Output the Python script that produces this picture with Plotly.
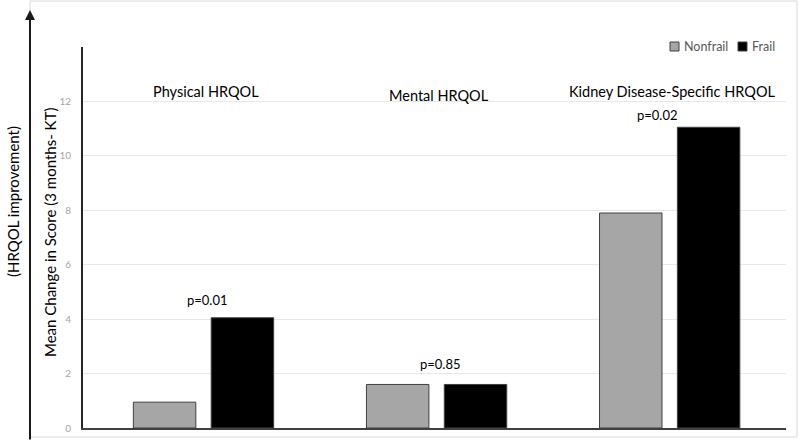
import plotly.graph_objects as go

categories = ["Physical HRQOL", "Mental HRQOL", "Kidney Disease-Specific HRQOL"]
nonfrail = [0.95, 1.6, 7.9]
frail = [4.05, 1.6, 11.05]
p_values = ["p=0.01", "p=0.85", "p=0.02"]
y_ticks = [0, 2, 4, 6, 8, 10, 12]
series_names = ["Nonfrail", "Frail"]
series_colors = ["#a6a6a6", "#000000"]

FONT = "Lato"
L, R, T, B = 83, 14, 47, 13
PW, PH = 800 - L - R, 441 - T - B


def px(x):
    return (x - L) / PW


def py(y):
    return (441 - B - y) / PH


fig = go.Figure()
for name, vals, col, off in zip(series_names, [nonfrail, frail], series_colors, [-0.30, 0.034]):
    fig.add_trace(go.Bar(
        x=categories, y=vals, name=name,
        marker=dict(color=col, line=dict(color="#404040", width=1)),
        width=0.268, offset=off, showlegend=False,
    ))

# category labels at top of plot
label_y = [12.38, 12.2, 12.36]
for c, yy in zip(categories, label_y):
    fig.add_annotation(x=c, y=yy, xref="x", yref="y", text=c, showarrow=False,
                       xanchor="center", yanchor="middle",
                       font=dict(family=FONT, size=14.5, color="#000000"), xshift=3)

# p-value labels
p_shift_x = [4, 4, -12]
p_shift_y = [18, 20, 12]
for c, nf, f, p, sx, sy in zip(categories, nonfrail, frail, p_values, p_shift_x, p_shift_y):
    fig.add_annotation(x=c, y=max(nf, f), xref="x", yref="y", text=p, showarrow=False,
                       xanchor="center", yanchor="middle", xshift=sx, yshift=sy,
                       font=dict(family=FONT, size=13, color="#000000"))

# y-axis titles
fig.add_annotation(x=px(50), y=py(233), xref="paper", yref="paper", textangle=-90,
                   xanchor="center", yanchor="middle",
                   text="Mean Change in Score (3 months- KT)", showarrow=False,
                   font=dict(family=FONT, size=15, color="#000000"))
fig.add_annotation(x=px(13), y=py(202), xref="paper", yref="paper", textangle=-90,
                   xanchor="center", yanchor="middle",
                   text="(HRQOL improvement)", showarrow=False,
                   font=dict(family=FONT, size=15, color="#000000"))

# upward arrow at left
fig.add_annotation(x=px(30), y=py(10), xref="paper", yref="paper", text="",
                   showarrow=True, axref="pixel", ayref="pixel", ax=0, ay=435,
                   arrowhead=2, arrowsize=1, arrowwidth=2, arrowcolor="#1a1a1a")

# outer frame
fig.add_shape(type="rect", xref="paper", yref="paper",
              x0=px(30), x1=px(797), y0=py(437), y1=py(1),
              line=dict(color="#d9d9d9", width=1), layer="below")

# legend (drawn manually for compact spacing)
legend_sq = [(670, 679), (738, 747)]
legend_tx = [682, 750]
for name, col, (x0, x1), tx in zip(series_names, series_colors, legend_sq, legend_tx):
    fig.add_shape(type="rect", xref="paper", yref="paper",
                  x0=px(x0), x1=px(x1), y0=py(51), y1=py(42),
                  fillcolor=col, line=dict(color="#404040", width=1))
    fig.add_annotation(x=px(tx), y=py(46.5), xref="paper", yref="paper", text=name,
                       showarrow=False, xanchor="left", yanchor="middle",
                       font=dict(family=FONT, size=12.5, color="#595959"))

fig.update_layout(
    width=800, height=441,
    margin=dict(l=L, r=R, t=T, b=B, autoexpand=False),
    paper_bgcolor="white", plot_bgcolor="white",
    barmode="group",
    showlegend=False,
    font=dict(family=FONT),
)
fig.update_xaxes(range=[-0.516, 2.5], showticklabels=False, ticks="",
                 showline=True, linecolor="#404040", linewidth=2, showgrid=False,
                 zeroline=False)
fig.update_yaxes(range=[0, 14], tickvals=y_ticks, ticks="",
                 tickfont=dict(family=FONT, size=10, color="#a6a6a6"),
                 showline=True, linecolor="#262626", linewidth=2,
                 showgrid=True, gridcolor="#e8e8e8", gridwidth=1, zeroline=False,
                 ticklabelstandoff=8)

fig.write_html("out.html", config={"displayModeBar": False},
               post_script="document.body.style.margin='0';document.body.style.padding='0';")
